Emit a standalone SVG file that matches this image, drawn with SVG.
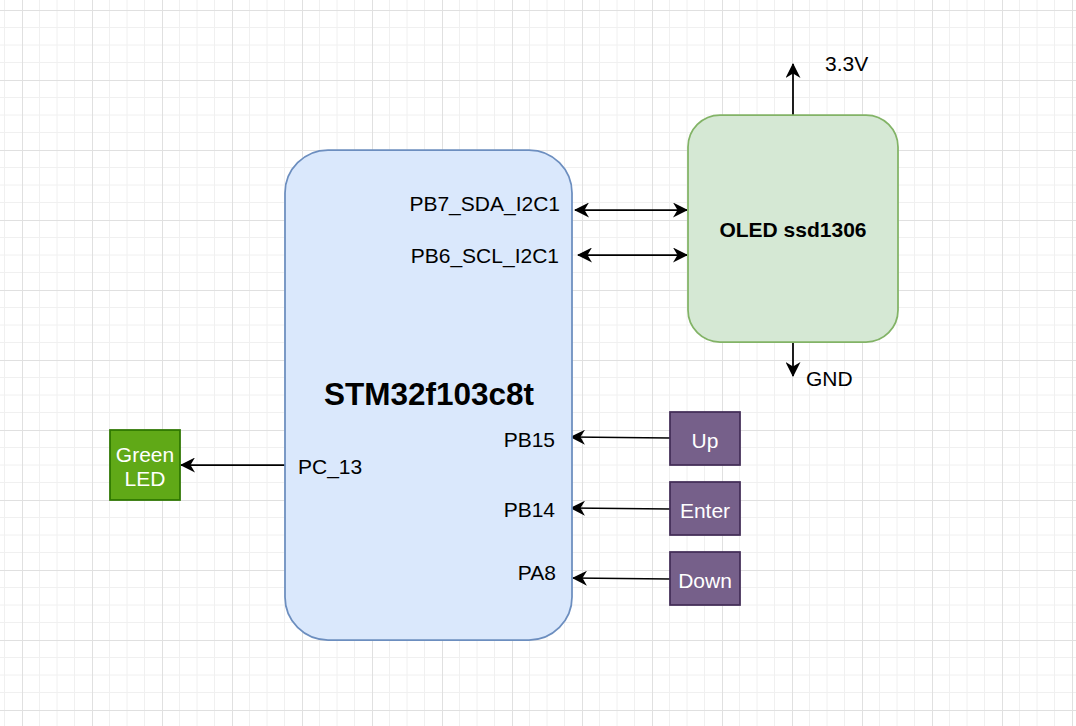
<svg xmlns="http://www.w3.org/2000/svg" width="1076" height="726" viewBox="0 0 1076 726">
<style>
.t{font-family:"Liberation Sans",Arial,sans-serif;font-size:21px;fill:#000}
.w{fill:#fff}
.b{font-weight:bold}
.e{text-anchor:end}
.m{text-anchor:middle}
.c{stroke:#000;stroke-width:1.75;fill:none}
.btn{fill:#76608a;stroke:#432d57;stroke-width:1.75}
</style>
<defs>
<pattern id="grid" patternUnits="userSpaceOnUse" x="22" y="10" width="70" height="70">
<path d="M17.5,0V70M35,0V70M52.5,0V70M0,17.5H70M0,35H70M0,52.5H70" stroke="#f0f0f0" stroke-width="1" fill="none"/>
<path d="M0.5,0V70M0,0.5H70" stroke="#e0e0e0" stroke-width="1" fill="none"/>
</pattern>
<marker id="a" viewBox="0 0 15 15" refX="14" refY="7.5" markerWidth="15" markerHeight="15" markerUnits="userSpaceOnUse" orient="auto-start-reverse">
<path d="M15,7.5 L0,0 L4.5,7.5 L0,15 Z" fill="#000"/>
</marker>
</defs>
<rect width="1076" height="726" fill="#fff"/>
<rect width="1076" height="726" fill="url(#grid)"/>

<g id="connectors">
<path class="c" d="M793,115V64" marker-end="url(#a)"/>
<path class="c" d="M793,342V376" marker-end="url(#a)"/>
<path class="c" d="M575,210H687" marker-start="url(#a)" marker-end="url(#a)"/>
<path class="c" d="M578,255H687" marker-start="url(#a)" marker-end="url(#a)"/>
<path class="c" d="M285,465H181" marker-end="url(#a)"/>
<path class="c" d="M670,438L571,437" marker-end="url(#a)"/>
<path class="c" d="M670,509L571,508" marker-end="url(#a)"/>
<path class="c" d="M670,579L573,578" marker-end="url(#a)"/>
</g>

<g id="stm32">
<rect x="285" y="150" width="287" height="490" rx="43" ry="43" fill="#dae8fc" stroke="#6c8ebf" stroke-width="1.75"/>
<text class="t b m" x="429" y="405" style="font-size:31.5px">STM32f103c8t</text>
<text class="t e" x="560" y="211">PB7_SDA_I2C1</text>
<text class="t e" x="559" y="263">PB6_SCL_I2C1</text>
<text class="t e" x="555" y="447">PB15</text>
<text class="t e" x="555" y="517">PB14</text>
<text class="t e" x="556" y="580">PA8</text>
<text class="t" x="298" y="474">PC_13</text>
</g>

<g id="oled">
<rect x="688" y="115" width="210" height="227" rx="32" ry="32" fill="#d5e8d4" stroke="#82b366" stroke-width="1.75"/>
<text class="t b m" x="793" y="237">OLED ssd1306</text>
</g>

<g id="label-33v"><text class="t" x="825" y="71">3.3V</text></g>
<g id="label-gnd"><text class="t" x="806" y="386">GND</text></g>

<g id="green-led">
<rect x="110" y="430" width="70" height="70" fill="#60a917" stroke="#2d7600" stroke-width="1.75"/>
<text class="t w m" x="145" y="461.5">Green</text>
<text class="t w m" x="145" y="485.5">LED</text>
</g>

<g id="btn-up">
<rect class="btn" x="670" y="412" width="70" height="53"/>
<text class="t w m" x="705" y="447.5">Up</text>
</g>
<g id="btn-enter">
<rect class="btn" x="670" y="482" width="70" height="53"/>
<text class="t w m" x="705" y="517.5">Enter</text>
</g>
<g id="btn-down">
<rect class="btn" x="670" y="552" width="70" height="53"/>
<text class="t w m" x="705" y="587.5">Down</text>
</g>
</svg>
